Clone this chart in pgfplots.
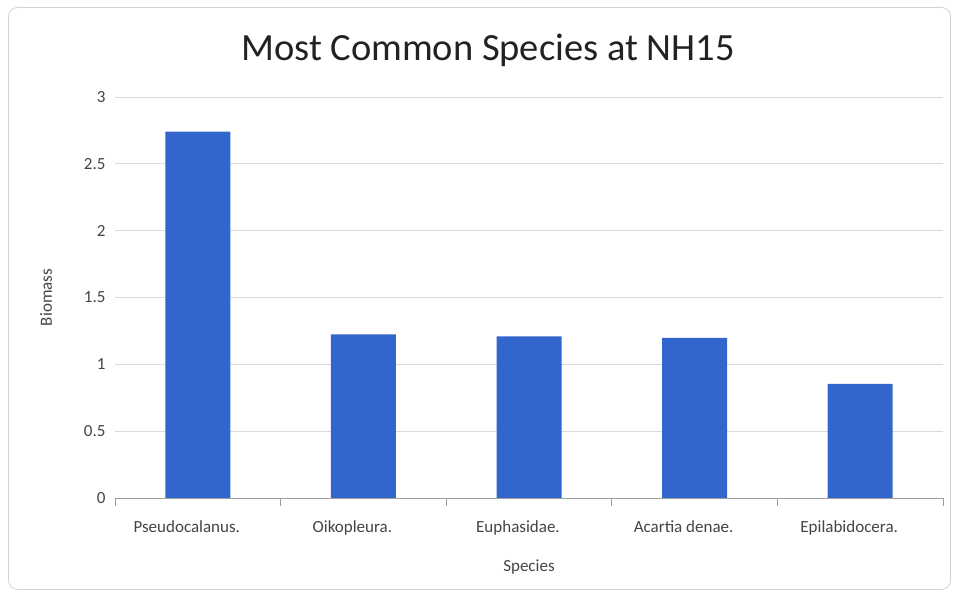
\documentclass[border=0pt]{standalone}
\usepackage{pgfplots}
\pgfplotsset{compat=1.18}
\usepackage{fontspec}
\setmainfont{Carlito}
\definecolor{barblue}{HTML}{3366CC}
\definecolor{gridgray}{HTML}{DADADA}
\definecolor{axisgray}{HTML}{9E9E9E}
\definecolor{textdark}{HTML}{222222}
\definecolor{ticktext}{HTML}{444444}
\begin{document}
\begin{tikzpicture}[x=1pt,y=1pt]
% canvas and rounded chart frame
\fill[white] (0,0) rectangle (954,593);
\draw[gray!35, line width=0.8pt, rounded corners=9pt] (8.5,3.5) rectangle (950.5,585.5);
\node[font=\fontsize{38.5}{44}\selectfont, text=textdark] at (488,543) {Most Common Species at NH15};
\begin{axis}[
  at={(115pt,95pt)}, anchor=south west,
  scale only axis, width=828pt, height=401pt,
  xmin=-0.5, xmax=4.5, ymin=0, ymax=3,
  axis x line*=bottom, axis y line*=left,
  y axis line style={draw=none},
  x axis line style={draw=axisgray, line width=0.8pt},
  xtick={0,1,2,3,4},
  xticklabels={Pseudocalanus., Oikopleura., Euphasidae., Acartia denae., Epilabidocera.},
  tick align=outside,
  xtick style={draw=axisgray, line width=0.8pt},
  major tick length=0pt,
  extra x ticks={-0.5,0.5,1.5,2.5,3.5,4.5},
  extra x tick labels={},
  extra x tick style={major tick length=8pt, grid=none},
  ytick={0,0.5,1,1.5,2,2.5,3},
  ytick style={draw=none},
  ymajorgrids, grid style={draw=gridgray, line width=0.9pt},
  /pgf/number format/assume math mode=true,
  tick label style={font=\fontsize{17}{20}\selectfont, text=ticktext},
  yticklabel style={xshift=-6pt},
  xticklabel style={yshift=-19pt, xshift=-11pt},
  xlabel={Species}, ylabel={Biomass},
  label style={font=\fontsize{17}{20}\selectfont, text=ticktext},
  xlabel style={yshift=-10pt},
  ylabel style={yshift=25pt},
]
\addplot[ybar, bar width=65pt, fill=barblue, draw=none] coordinates {
  (0,2.74) (1,1.224) (2,1.21) (3,1.197) (4,0.853)
};
\end{axis}
\end{tikzpicture}
\end{document}
